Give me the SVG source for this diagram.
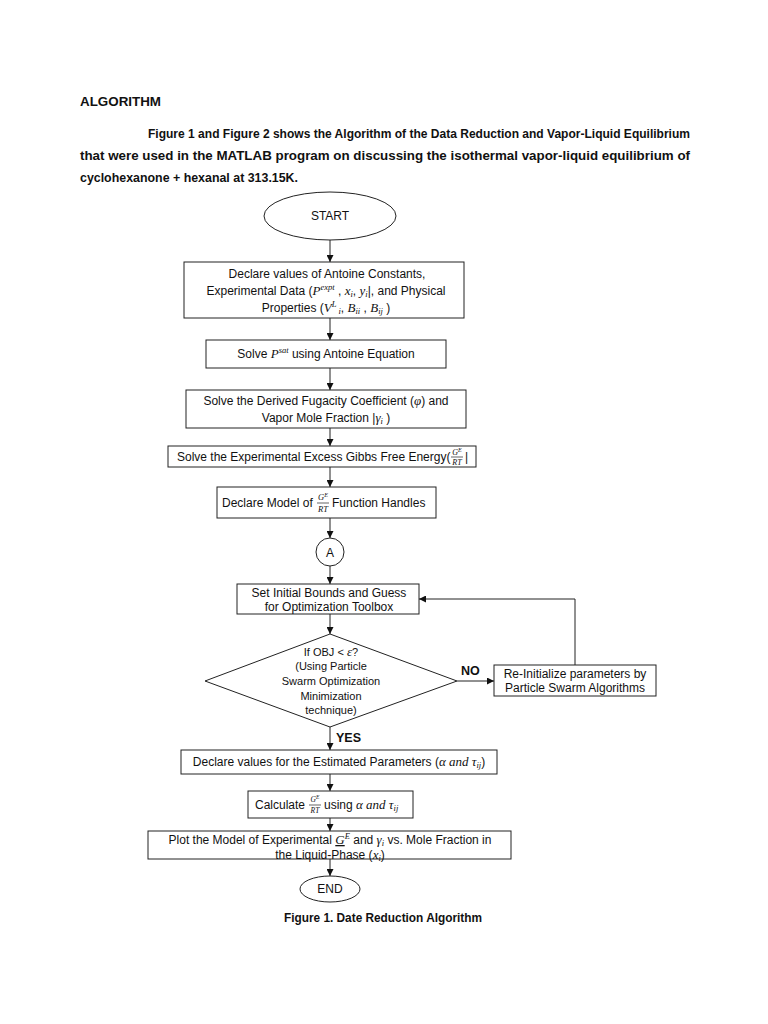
<svg xmlns="http://www.w3.org/2000/svg" width="768" height="1024" viewBox="0 0 768 1024">
<style>
.t{font-family:"Liberation Sans",Arial,sans-serif;font-size:12px;fill:#111}
.b{font-family:"Liberation Sans",Arial,sans-serif;font-weight:bold;fill:#111}
.m{font-family:"Liberation Serif","Times New Roman",serif;font-style:italic;font-size:13px}
.s{font-size:8.5px}
.box{fill:#fff;stroke:#222;stroke-width:1}
.ln{fill:none;stroke:#222;stroke-width:1}
.fr{font-family:"Liberation Serif","Times New Roman",serif;font-style:italic;fill:#111}
.d{font-size:11px}
</style>
<defs>
<marker id="ah" viewBox="0 0 10 10" refX="10" refY="5" markerWidth="7" markerHeight="7" orient="auto" markerUnits="userSpaceOnUse">
<path d="M0,0 L10,5 L0,10 z" fill="#111"/>
</marker>
</defs>
<rect width="768" height="1024" fill="#fff"/>

<g id="header">
<text class="b" x="80" y="106" font-size="12.5" textLength="81" lengthAdjust="spacingAndGlyphs">ALGORITHM</text>
<text class="b" x="148" y="138" font-size="13" textLength="542" lengthAdjust="spacingAndGlyphs">Figure 1 and Figure 2 shows the Algorithm of the Data Reduction and Vapor-Liquid Equilibrium</text>
<text class="b" x="80" y="160" font-size="13" textLength="610" lengthAdjust="spacingAndGlyphs">that   were   used   in   the   MATLAB   program   on   discussing   the   isothermal   vapor-liquid   equilibrium   of</text>
<text class="b" x="80" y="182" font-size="13" textLength="218" lengthAdjust="spacingAndGlyphs">cyclohexanone + hexanal at 313.15K.</text>
</g>

<g id="connectors">
<line class="ln" x1="330" y1="240" x2="330" y2="262" marker-end="url(#ah)"/>
<line class="ln" x1="330" y1="318" x2="330" y2="340" marker-end="url(#ah)"/>
<line class="ln" x1="330" y1="368" x2="330" y2="390" marker-end="url(#ah)"/>
<line class="ln" x1="330" y1="428" x2="330" y2="446" marker-end="url(#ah)"/>
<line class="ln" x1="330" y1="467" x2="330" y2="487" marker-end="url(#ah)"/>
<line class="ln" x1="330" y1="518" x2="330" y2="538" marker-end="url(#ah)"/>
<line class="ln" x1="330" y1="566" x2="330" y2="584" marker-end="url(#ah)"/>
<line class="ln" x1="330" y1="614" x2="330" y2="634" marker-end="url(#ah)"/>
<line class="ln" x1="457" y1="681" x2="494" y2="681" marker-end="url(#ah)"/>
<polyline class="ln" points="575,665 575,599 419,599" marker-end="url(#ah)"/>
<line class="ln" x1="330" y1="727" x2="330" y2="750" marker-end="url(#ah)"/>
<line class="ln" x1="330" y1="774" x2="330" y2="791" marker-end="url(#ah)"/>
<line class="ln" x1="330" y1="818" x2="330" y2="831" marker-end="url(#ah)"/>
<line class="ln" x1="330" y1="843" x2="330" y2="876" marker-end="url(#ah)"/>
<text class="b" x="461" y="675" font-size="12.5">NO</text>
<text class="b" x="336" y="742" font-size="12.5">YES</text>
</g>

<g id="start">
<ellipse cx="330" cy="216" rx="66" ry="24" class="box"/>
<text class="t" x="330" y="220" text-anchor="middle" font-size="10">START</text>
</g>

<g id="declare-values">
<rect class="box" x="184" y="262" width="280" height="56"/>
<text class="t" x="327" y="278" text-anchor="middle">Declare values of  Antoine Constants,</text>
<text class="t" x="326" y="295" text-anchor="middle">Experimental Data (<tspan class="m">P</tspan><tspan class="m s" dy="-5">expt</tspan><tspan dy="5"> , </tspan><tspan class="m">x</tspan><tspan class="m s" dy="2">i</tspan><tspan dy="-2">, </tspan><tspan class="m">y</tspan><tspan class="m s" dy="2">i</tspan><tspan dy="-2">|, and Physical</tspan></text>
<text class="t" x="326" y="312" text-anchor="middle">Properties (<tspan class="m">V</tspan><tspan class="m s" dy="-5">L</tspan><tspan class="m s" dy="7"> i</tspan><tspan dy="-2">, </tspan><tspan class="m">B</tspan><tspan class="m s" dy="2">ii</tspan><tspan dy="-2"> , </tspan><tspan class="m">B</tspan><tspan class="m s" dy="2">ij</tspan><tspan dy="-2"> )</tspan></text>
</g>

<g id="solve-psat">
<rect class="box" x="206" y="340" width="240" height="28"/>
<text class="t" x="326" y="358" text-anchor="middle">Solve <tspan class="m">P</tspan><tspan class="m s" dy="-5">sat</tspan><tspan dy="5">  using Antoine Equation</tspan></text>
</g>

<g id="solve-fugacity">
<rect class="box" x="186" y="390" width="280" height="38"/>
<text class="t" x="326" y="405" text-anchor="middle">Solve the Derived Fugacity Coefficient (<tspan class="m">φ</tspan>) and</text>
<text class="t" x="326" y="422" text-anchor="middle">Vapor Mole Fraction |<tspan class="m">γ</tspan><tspan class="m s" dy="2">i</tspan><tspan dy="-2"> )</tspan></text>
</g>

<g id="solve-gibbs">
<rect class="box" x="168" y="446" width="308" height="21"/>
<text class="t" x="177" y="461">Solve the Experimental Excess Gibbs Free Energy(</text>
<text class="fr" x="457" y="455" font-size="8" text-anchor="middle">G<tspan dy="-3" font-size="6">E</tspan></text>
<line x1="451" y1="457" x2="463" y2="457" stroke="#222" stroke-width="0.7"/>
<text class="fr" x="457" y="465" font-size="8" text-anchor="middle">RT</text>
<text class="t" x="465" y="461">|</text>
</g>

<g id="declare-model">
<rect class="box" x="217" y="487" width="219" height="31"/>
<text class="t" x="222" y="507" font-size="11.5">Declare Model of</text>
<text class="fr" x="323" y="500" font-size="8.5" text-anchor="middle">G<tspan dy="-3" font-size="6">E</tspan></text>
<line x1="317" y1="503" x2="329" y2="503" stroke="#222" stroke-width="0.7"/>
<text class="fr" x="323" y="512" font-size="8.5" text-anchor="middle">RT</text>
<text class="t" x="332" y="507" font-size="11.5">Function Handles</text>
</g>

<g id="connector-a">
<circle cx="330" cy="552" r="14" class="box"/>
<text class="t" x="330" y="556.5" text-anchor="middle" font-size="12">A</text>
</g>

<g id="set-bounds">
<rect class="box" x="237" y="584" width="182" height="30"/>
<text class="t" x="329" y="597" text-anchor="middle">Set  Initial Bounds and Guess</text>
<text class="t" x="329" y="611" text-anchor="middle">for Optimization Toolbox</text>
</g>

<g id="decision">
<polygon class="box" points="330,634 457,681 330,727 205,681"/>
<text class="t d" x="331" y="656" text-anchor="middle">If OBJ &lt; <tspan class="m">ε</tspan>?</text>
<text class="t d" x="331" y="670" text-anchor="middle">(Using Particle</text>
<text class="t d" x="331" y="685" text-anchor="middle">Swarm Optimization</text>
<text class="t d" x="331" y="700" text-anchor="middle">Minimization</text>
<text class="t d" x="331" y="714" text-anchor="middle">technique)</text>
</g>

<g id="reinitialize">
<rect class="box" x="494" y="665" width="162" height="31"/>
<text class="t" x="575" y="678" text-anchor="middle" font-size="11.5">Re-Initialize parameters by</text>
<text class="t" x="575" y="692" text-anchor="middle" font-size="11.5">Particle Swarm Algorithms</text>
</g>

<g id="declare-estimated">
<rect class="box" x="181" y="750" width="316" height="24"/>
<text class="t" x="339" y="766" text-anchor="middle">Declare values for the Estimated Parameters (<tspan class="m">α and τ</tspan><tspan class="m s" dy="2">ij</tspan><tspan dy="-2">)</tspan></text>
</g>

<g id="calculate">
<rect class="box" x="248" y="791" width="165" height="27"/>
<text class="t" x="255" y="809">Calculate</text>
<text class="fr" x="315" y="802" font-size="7.5" text-anchor="middle">G<tspan dy="-3" font-size="5.5">E</tspan></text>
<line x1="309" y1="805" x2="321" y2="805" stroke="#222" stroke-width="0.7"/>
<text class="fr" x="315" y="813" font-size="7.5" text-anchor="middle">RT</text>
<text class="t" x="324" y="809">using <tspan class="m">α and τ</tspan><tspan class="m s" dy="2">ij</tspan></text>
</g>

<g id="plot">
<rect class="box" x="148" y="831" width="363" height="28"/>
<text class="t" x="330" y="844" text-anchor="middle">Plot the Model of Experimental <tspan class="m" text-decoration="underline">G</tspan><tspan class="m s" dy="-5">E</tspan><tspan dy="5"> and </tspan><tspan class="m">γ</tspan><tspan class="m s" dy="2">i</tspan><tspan dy="-2">  vs. Mole Fraction in</tspan></text>
<text class="t" x="330" y="859" text-anchor="middle">the Liquid-Phase (<tspan class="m">x</tspan><tspan class="m s" dy="2">i</tspan><tspan dy="-2">)</tspan></text>
</g>

<g id="end">
<ellipse cx="330" cy="889" rx="30" ry="13" class="box"/>
<text class="t" x="330" y="893" text-anchor="middle">END</text>
</g>

<g id="caption">
<text class="b" x="383" y="922" font-size="13" text-anchor="middle" textLength="198" lengthAdjust="spacingAndGlyphs">Figure 1. Date Reduction Algorithm</text>
</g>
</svg>
